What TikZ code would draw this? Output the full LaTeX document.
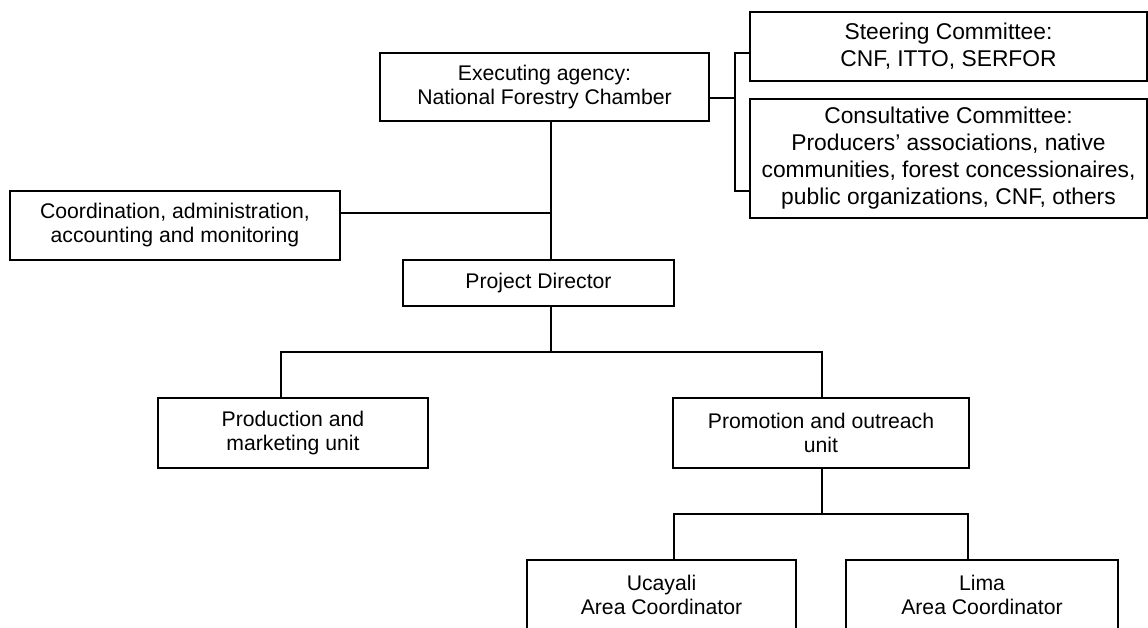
\documentclass[tikz,border=0pt]{standalone}
\usepackage{fontspec}
\setmainfont{Liberation Sans}
\begin{document}
\begin{tikzpicture}[x=1pt,y=-1pt,
  box/.style={draw=black, line width=1.6pt, fill=white, inner sep=0pt,
    align=center, font=\fontsize{21.2}{24}\selectfont},
  bigbox/.style={box, font=\fontsize{22.8}{27}\selectfont},
  link/.style={draw=black, line width=1.6pt}]
\useasboundingbox (0,0) rectangle (1148,627);
\clip (0,0) rectangle (1148,627);

% boxes
\node[bigbox, minimum width=397pt, minimum height=69pt] (steer) at (948.5,46.5)
  {Steering Committee:\\CNF, ITTO, SERFOR};
\node[bigbox, minimum width=397pt, minimum height=119pt] (consult) at (948.5,158.5)
  {Consultative Committee:\\Producers’ associations, native\\communities, forest concessionaires,\\public organizations, CNF, others};
\node[box, minimum width=329pt, minimum height=68pt] (exec) at (544.5,87)
  {Executing agency:\\National Forestry Chamber};
\node[box, minimum width=330pt, minimum height=69pt] (coord) at (175,225.5)
  {Coordination, administration,\\accounting and monitoring};
\node[box, minimum width=271pt, minimum height=46pt] (pd) at (538.5,283)
  {Project Director};
\node[box, minimum width=270pt, minimum height=70pt] (prod) at (293,433)
  {Production and\\marketing unit};
\node[box, minimum width=296pt, minimum height=70pt] (promo) at (821,433)
  {Promotion and outreach\\unit};
\node[box, minimum width=269pt, minimum height=70pt] (uca) at (661.5,595)
  {Ucayali\\Area Coordinator};
\node[box, minimum width=272pt, minimum height=70pt] (lima) at (982,595)
  {Lima\\Area Coordinator};

% junction points
\coordinate (j1) at (735,98);
\coordinate (s1) at (735,53);
\coordinate (s2) at (735,191);
\coordinate (t1) at (551,0);
\coordinate (c1) at (551,213);
\coordinate (h1) at (551,352);
\coordinate (hl) at (281,352);
\coordinate (hr) at (822,352);
\coordinate (bm) at (822,514);
\coordinate (bl) at (674,514);
\coordinate (br) at (968,514);

% committees
\draw[link] (exec.east |- j1) -- (j1);
\draw[link] (steer.west |- s1) -- (s1) -- (s2) -- (consult.west |- s2);
% main line
\draw[link] (exec.south -| t1) -- (pd.north -| t1);
\draw[link] (coord.east |- c1) -- (c1);
% units
\draw[link] (pd.south -| h1) -- (h1);
\draw[link] (prod.north -| hl) -- (hl) -- (hr) -- (promo.north -| hr);
% area coordinators
\draw[link] (promo.south -| bm) -- (bm);
\draw[link] (uca.north -| bl) -- (bl) -- (br) -- (lima.north -| br);
\end{tikzpicture}
\end{document}
